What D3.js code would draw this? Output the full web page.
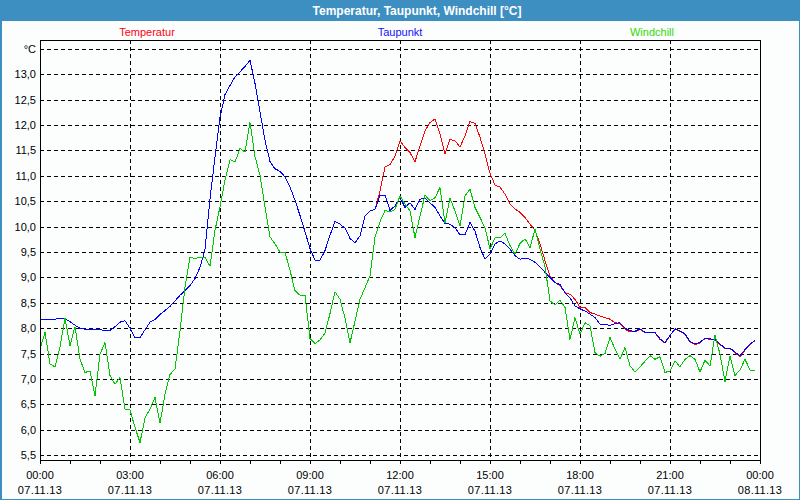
<!DOCTYPE html>
<html>
<head>
<meta charset="utf-8">
<script src="https://cdn.jsdelivr.net/npm/d3@7"></script>
<style>
  html, body { margin: 0; padding: 0; background: #fcfefe; }
  svg { display: block; }
  text { font-family: "Liberation Sans", Arial, sans-serif; }
</style>
</head>
<body>
<svg id="chart" width="800" height="500"></svg>
<script>
// ---- data (10-minute readings, 07.11.13 00:00 .. 23:50) ----
const chartTitle = "Temperatur, Taupunkt, Windchill [°C]";
const seriesNames = ["Temperatur", "Taupunkt", "Windchill"];
const stepMinutes = 10;

const temperatur = [
  8.16, 8.17, 8.17, 8.18, 8.19, 8.19, 8.13, 8.06, 8.00, 7.98, 7.98, 7.98,
  7.97, 7.96, 7.96, 8.03, 8.12, 8.15, 8.00, 7.81, 7.82, 7.97, 8.12, 8.17,
  8.27, 8.35, 8.43, 8.54, 8.65, 8.74, 8.84, 8.98, 9.20, 9.55, 10.55, 11.37,
  12.15, 12.60, 12.78, 12.95, 13.05, 13.15, 13.28, 12.82, 12.26, 11.70, 11.28, 11.14,
  11.09, 10.98, 10.78, 10.52, 10.22, 9.90, 9.57, 9.34, 9.34, 9.53, 9.83, 10.10,
  10.05, 9.97, 9.77, 9.68, 9.82, 10.21, 10.31, 10.34, 10.70, 11.18, 11.22, 11.39,
  11.69, 11.56, 11.46, 11.28, 11.59, 11.89, 12.05, 12.12, 11.82, 11.43, 11.72, 11.69,
  11.57, 11.79, 12.07, 12.03, 11.76, 11.43, 11.05, 10.82, 10.78, 10.64, 10.45, 10.35,
  10.28, 10.18, 10.05, 9.93, 9.66, 9.33, 9.03, 8.90, 8.84, 8.70, 8.67, 8.57,
  8.41, 8.41, 8.31, 8.28, 8.24, 8.21, 8.18, 8.11, 8.09, 7.98, 7.93, 7.93,
  7.98, 7.91, 7.91, 7.91, 7.78, 7.71, 7.86, 7.98, 7.94, 7.88, 7.73, 7.68,
  7.71, 7.80, 7.78, 7.77, 7.68, 7.60, 7.60, 7.52, 7.44, 7.57, 7.68, 7.76
];

const taupunkt = [
  8.16, 8.17, 8.17, 8.18, 8.19, 8.19, 8.13, 8.06, 8.00, 7.98, 7.98, 7.98,
  7.97, 7.96, 7.96, 8.03, 8.12, 8.15, 8.00, 7.81, 7.82, 7.97, 8.12, 8.17,
  8.27, 8.35, 8.43, 8.54, 8.65, 8.74, 8.84, 8.98, 9.20, 9.55, 10.55, 11.37,
  12.15, 12.60, 12.78, 12.95, 13.05, 13.15, 13.28, 12.82, 12.26, 11.70, 11.28, 11.14,
  11.09, 10.98, 10.78, 10.52, 10.22, 9.90, 9.57, 9.34, 9.34, 9.53, 9.83, 10.10,
  10.05, 9.97, 9.77, 9.68, 9.82, 10.21, 10.31, 10.34, 10.62, 10.62, 10.32, 10.41,
  10.57, 10.38, 10.47, 10.34, 10.54, 10.57, 10.47, 10.38, 10.21, 10.06, 10.05, 9.98,
  9.84, 9.84, 10.08, 9.91, 9.59, 9.36, 9.46, 9.66, 9.72, 9.66, 9.56, 9.43,
  9.36, 9.38, 9.36, 9.30, 9.21, 9.10, 9.00, 8.90, 8.86, 8.70, 8.60, 8.44,
  8.38, 8.34, 8.28, 8.21, 8.08, 8.07, 8.06, 8.09, 8.11, 8.00, 7.95, 7.94,
  7.99, 7.92, 7.92, 7.92, 7.79, 7.72, 7.86, 7.99, 7.95, 7.89, 7.74, 7.69,
  7.72, 7.81, 7.79, 7.78, 7.69, 7.61, 7.61, 7.53, 7.46, 7.58, 7.69, 7.76
];

const windchill = [
  7.59, 7.92, 7.30, 7.24, 7.63, 8.20, 7.66, 8.03, 7.39, 7.13, 7.16, 6.67,
  7.49, 7.72, 7.07, 6.90, 7.03, 6.41, 6.39, 6.05, 5.75, 6.24, 6.41, 6.64,
  6.13, 6.70, 7.09, 7.20, 7.95, 8.81, 9.40, 9.37, 9.40, 9.40, 9.22, 9.93,
  10.39, 10.92, 11.32, 11.27, 11.54, 11.47, 12.05, 11.38, 11.01, 10.39, 9.80, 9.66,
  9.50, 9.50, 9.14, 8.74, 8.65, 8.65, 7.80, 7.70, 7.77, 7.90, 8.29, 8.72,
  8.57, 8.20, 7.71, 8.14, 8.57, 8.80, 9.03, 9.80, 10.10, 10.32, 10.29, 10.34,
  10.61, 10.44, 10.31, 9.78, 10.21, 10.62, 10.51, 10.57, 10.77, 10.08, 10.56, 10.31,
  10.01, 10.61, 10.74, 10.38, 10.18, 9.98, 9.56, 9.78, 9.78, 9.87, 9.63, 9.46,
  9.67, 9.76, 9.59, 9.95, 9.56, 9.21, 8.54, 8.46, 8.55, 8.41, 7.78, 8.21,
  7.88, 8.11, 8.05, 7.52, 7.45, 7.50, 7.82, 7.59, 7.39, 7.62, 7.26, 7.14,
  7.24, 7.35, 7.46, 7.39, 7.44, 7.13, 7.16, 7.36, 7.24, 7.39, 7.46, 7.39,
  7.14, 7.37, 7.26, 7.86, 7.49, 6.95, 7.46, 7.07, 7.18, 7.39, 7.18, 7.16
];

const xTickHours = [0, 3, 6, 9, 12, 15, 18, 21, 24];
const xTimeLabels = ["00:00", "03:00", "06:00", "09:00", "12:00", "15:00", "18:00", "21:00", "00:00"];
const xDateLabels = ["07.11.13", "07.11.13", "07.11.13", "07.11.13", "07.11.13", "07.11.13", "07.11.13", "07.11.13", "08.11.13"];
const yTicks = [5.5, 6.0, 6.5, 7.0, 7.5, 8.0, 8.5, 9.0, 9.5, 10.0, 10.5, 11.0, 11.5, 12.0, 12.5, 13.0, 13.5];
const yUnitLabel = "°C";

// ---- drawing ----
const W = 800, H = 500;
const plot = { left: 40, right: 760, top: 40, bottom: 460 };
const colors = { Temperatur: "#ff0000", Taupunkt: "#0000ff", Windchill: "#00c800" };
const legendColors = { Temperatur: "#ff0010", Taupunkt: "#1010ff", Windchill: "#30d800" };

const svg = d3.select("#chart");

const x = d3.scaleLinear().domain([0, 24 * 60]).range([plot.left, plot.right]);
const y = d3.scaleLinear().domain([5.407, 13.675]).range([plot.bottom, plot.top]);
const px = v => Math.round(v) + 0.5;

// window background + frame
svg.append("rect").attr("x", 0).attr("y", 0).attr("width", W).attr("height", H).attr("fill", "#3d8fc2");
svg.append("rect").attr("x", 2).attr("y", 21).attr("width", W - 3).attr("height", H - 22).attr("fill", "#fcfefe");

// title
svg.append("text").attr("x", 417).attr("y", 15)
  .attr("text-anchor", "middle").attr("fill", "#ffffff")
  .attr("font-weight", "bold").attr("font-size", "12px")
  .text(chartTitle);

// legend
const legendX = [147, 400, 652];
seriesNames.forEach((n, i) => {
  svg.append("text").attr("x", legendX[i]).attr("y", 36)
    .attr("text-anchor", "middle").attr("font-size", "11px")
    .attr("fill", legendColors[n]).text(n);
});

// horizontal grid
const g = svg.append("g").attr("shape-rendering", "crispEdges");
g.selectAll("line.hgrid").data(yTicks).join("line")
  .attr("class", "hgrid")
  .attr("x1", plot.left).attr("x2", plot.right)
  .attr("y1", d => px(y(d))).attr("y2", d => px(y(d)))
  .attr("stroke", "#000").attr("stroke-width", 1).attr("stroke-dasharray", "4,3");

// vertical grid
g.selectAll("line.vgrid").data(xTickHours.slice(1, -1)).join("line")
  .attr("class", "vgrid")
  .attr("x1", d => px(x(d * 60))).attr("x2", d => px(x(d * 60)))
  .attr("y1", plot.top).attr("y2", plot.bottom)
  .attr("stroke", "#000").attr("stroke-width", 1).attr("stroke-dasharray", "4,3");

// hourly ticks below plot
g.selectAll("line.tick").data(d3.range(0, 25)).join("line")
  .attr("class", "tick")
  .attr("x1", d => px(x(d * 60))).attr("x2", d => px(x(d * 60)))
  .attr("y1", plot.bottom).attr("y2", plot.bottom + 4)
  .attr("stroke", "#000").attr("stroke-width", 1);

// y labels
svg.selectAll("text.ylab").data(yTicks).join("text")
  .attr("class", "ylab")
  .attr("x", 36).attr("y", d => y(d) + 4)
  .attr("text-anchor", "end").attr("font-size", "11px").attr("fill", "#000")
  .text(d => d === 13.5 ? yUnitLabel : d3.format(".1f")(d).replace(".", ","));

// x labels
svg.selectAll("text.xtime").data(xTickHours).join("text")
  .attr("class", "xtime")
  .attr("x", (d, i) => x(d * 60)).attr("y", 479)
  .attr("text-anchor", "middle").attr("font-size", "11px").attr("fill", "#000")
  .text((d, i) => xTimeLabels[i]);
svg.selectAll("text.xdate").data(xTickHours).join("text")
  .attr("class", "xdate")
  .attr("x", (d, i) => x(d * 60)).attr("y", 494)
  .attr("text-anchor", "middle").attr("font-size", "11px").attr("fill", "#000")
  .attr("letter-spacing", "0.3px")
  .text((d, i) => xDateLabels[i]);

// series lines
const line = d3.line()
  .x((d, i) => x(i * stepMinutes))
  .y(d => y(d));

const series = [
  { name: "Temperatur", values: temperatur },
  { name: "Taupunkt", values: taupunkt },
  { name: "Windchill", values: windchill }
];
series.forEach(s => {
  svg.append("path")
    .datum(s.values)
    .attr("d", line)
    .attr("fill", "none")
    .attr("stroke", colors[s.name])
    .attr("stroke-width", 1)
    .attr("shape-rendering", "crispEdges");
});

// plot border
svg.append("rect")
  .attr("x", plot.left + 0.5).attr("y", plot.top + 0.5)
  .attr("width", plot.right - plot.left).attr("height", plot.bottom - plot.top)
  .attr("fill", "none").attr("stroke", "#000").attr("stroke-width", 1)
  .attr("shape-rendering", "crispEdges");
</script>
</body>
</html>
